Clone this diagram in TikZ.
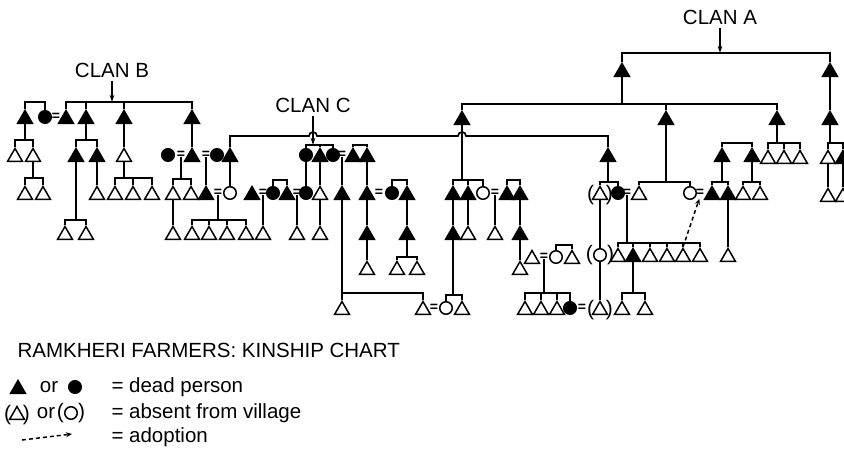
\documentclass[tikz,border=0pt]{standalone}
\usepackage{fontspec}
\setmainfont{Liberation Sans}
\usetikzlibrary{shapes.geometric,arrows.meta}

\begin{document}
\begin{tikzpicture}[x=1pt,y=-1pt,
  every node/.style={font=\fontsize{20.5}{24}\selectfont},
  ln/.style={line width=1.7pt},
  drop/.style={ln,shorten <=-2pt},
  man/.style={draw,line width=1.5pt,fill=white,regular polygon,regular polygon sides=3,
    minimum size=17pt,inner sep=0pt,yshift=-2pt},
  dman/.style={man,fill=black},
  wom/.style={draw,line width=1.5pt,fill=white,circle,minimum size=12.5pt,inner sep=0pt},
  dwom/.style={wom,fill=black},
  wed/.style={inner sep=0pt,font=\fontsize{14}{14}\selectfont\bfseries},
  paren/.style={inner sep=0pt,font=\fontsize{21}{21}\selectfont},
  away/.style={label distance=0.5pt,label={[paren]180:(},label={[paren]0:)}},
  awayw/.style={label distance=-1.5pt,label={[paren]180:(},label={[paren]0:)}},
  pointer/.style={line width=1.2pt,-{Stealth[length=7pt,width=4.5pt]}},
  adopt/.style={line width=1.5pt,dash pattern=on 4pt off 3pt,-{Stealth[length=6pt,width=5pt]}}]
  \useasboundingbox (0,0) rectangle (844,453);

  \node (clanB) at (112,70) {CLAN B};
  \coordinate (jB) at (112,102);
  \node (clanC) at (313,105) {CLAN C};
  \coordinate (jC) at (313,145);
  \node (clanA) at (720,17) {CLAN A};
  \coordinate (jA) at (720,53);

  \node[dman] (b1) at (25,117) {};
  \node[dwom] (b2) at (45,117) {};
  \node[wed] (w1) at (56,117) {=};
  \node[dman] (b3) at (66,117) {};
  \node[dman] (b4) at (86,117) {};
  \node[dman] (b5) at (124,117) {};
  \node[dman] (b6) at (192,117) {};
  \node[man] (b11) at (15,155) {};
  \node[man] (b12) at (33,155) {};
  \node[dman] (b41) at (76,155) {};
  \node[dman] (b42) at (97,155) {};
  \node[man] (b51) at (124,155) {};
  \node[dwom] (b60) at (168,155) {};
  \node[wed] (w2) at (181,155) {=};
  \node[dman] (b61) at (192,155) {};
  \node[wed] (w3) at (206,155) {=};
  \node[dwom] (b62) at (217,155) {};
  \node[dman] (k1) at (230,155) {};
  \node[man] (b121) at (25,193) {};
  \node[man] (b122) at (43,193) {};
  \node[man] (b421) at (97,193) {};
  \node[man] (b511) at (115,193) {};
  \node[man] (b512) at (133,193) {};
  \node[man] (b513) at (152,193) {};
  \node[man] (b611) at (173,193) {};
  \node[man] (b612) at (191,193) {};
  \node[dman] (b613) at (206,193) {};
  \node[wed] (w4) at (218,193) {=};
  \node[wom] (k11) at (230,193) {};
  \node[man] (b411) at (65,233) {};
  \node[man] (b412) at (86,233) {};
  \node[man] (b6111) at (173,233) {};
  \node[man] (b6131) at (192,233) {};
  \node[man] (b6132) at (209,233) {};
  \node[man] (b6133) at (227,233) {};
  \node[man] (b6134) at (246,233) {};

  \node[dwom] (c1) at (306,155) {};
  \node[dman] (c2) at (320,155) {};
  \node[dwom] (c3) at (333,155) {};
  \node[wed] (w5) at (342,155) {=};
  \node[dman] (c4) at (353,155) {};
  \node[dman] (c5) at (367,155) {};
  \node[dman] (c6) at (252,193) {};
  \node[wed] (w6) at (263,193) {=};
  \node[dwom] (c7) at (273,193) {};
  \node[dman] (c8) at (287,193) {};
  \node[wed] (w7) at (297,193) {=};
  \node[dwom] (c11) at (306,193) {};
  \node[man] (c21) at (320,193) {};
  \node[dman] (c31) at (342,193) {};
  \node[dman] (c51) at (367,193) {};
  \node[wed] (w8) at (379,193) {=};
  \node[dwom] (c9) at (392,193) {};
  \node[dman] (c10) at (407,193) {};
  \node[man] (c61) at (263,233) {};
  \node[man] (c81) at (297,233) {};
  \node[man] (c211) at (320,233) {};
  \node[dman] (c511) at (367,233) {};
  \node[dman] (c101) at (407,233) {};
  \node[man] (c5111) at (367,268) {};
  \node[man] (c1011) at (397,268) {};
  \node[man] (c1012) at (417,268) {};
  \node[man] (c311) at (342,308) {};
  \node[man] (c312) at (423,308) {};
  \node[wed] (w9) at (434,308) {=};

  \node[dman] (a1) at (462,118) {};
  \node[dman] (a11) at (453,193) {};
  \node[dman] (a12) at (468,193) {};
  \node[wom] (a13) at (483,193) {};
  \node[wed] (w10) at (495,193) {=};
  \node[dman] (d1) at (507,193) {};
  \node[dman] (d2) at (520,193) {};
  \node[dman] (a111) at (453,233) {};
  \node[man] (a121) at (468,233) {};
  \node[man] (a131) at (495,233) {};
  \node[dman] (d21) at (520,233) {};
  \node[man] (d211) at (520,268) {};
  \node[man] (e1) at (532,257) {};
  \node[wed] (w11) at (544,257) {=};
  \node[wom] (e2) at (556,257) {};
  \node[man] (e3) at (572,257) {};
  \node[wom] (a1111) at (446,308) {};
  \node[man] (a1112) at (462,308) {};
  \node[man] (e11) at (525,308) {};
  \node[man] (e12) at (541,308) {};
  \node[man] (e13) at (557,308) {};
  \node[dwom] (e14) at (570,308) {};
  \node[wed] (w12) at (582,308) {=};
  \node[man,away] (f111) at (600,308) {};

  \node[dman] (a0) at (622,70) {};
  \node[dman] (a4) at (830,70) {};
  \node[dman] (a2) at (666,118) {};
  \node[dman] (a3) at (777,118) {};
  \node[dman] (a5) at (830,118) {};
  \node[dman] (k2) at (608,155) {};
  \node[dman] (h1) at (722,155) {};
  \node[dman] (h2) at (752,155) {};
  \node[man] (i1) at (768,157) {};
  \node[man] (i2) at (784,157) {};
  \node[man] (i3) at (800,157) {};
  \node[man] (j1) at (828,157) {};
  \node[dman] (j2) at (843,157) {};
  \node[man,away] (f1) at (600,193) {};
  \node[dwom] (f2) at (618,193) {};
  \node[wed] (w13) at (627,193) {=};
  \node[man] (g1) at (639,193) {};
  \node[wom] (g2) at (690,193) {};
  \node[wed] (w14) at (700,193) {=};
  \node[dman] (h11) at (712,193) {};
  \node[dman] (h12) at (728,193) {};
  \node[man] (h21) at (743,193) {};
  \node[man] (h22) at (760,193) {};
  \node[man] (j11) at (828,195) {};
  \node[man] (j21) at (843,195) {};
  \node[wom,awayw] (f11) at (600,255) {};
  \node[man] (n1) at (618,255) {};
  \node[dman] (n2) at (633,255) {};
  \node[man] (n3) at (650,255) {};
  \node[man] (n4) at (667,255) {};
  \node[man] (n5) at (683,255) {};
  \node[man] (n6) at (700,255) {};
  \node[man] (h121) at (728,255) {};
  \node[man] (n21) at (622,308) {};
  \node[man] (n22) at (645,308) {};

  \draw[pointer] (clanB) -- (jB);
  \draw[pointer] (clanA) -- (jA);
  \draw[pointer] (clanC) -- (jC);
  \draw[ln] (b1.north) |- (b2.north |- 0,102) -- (b2.north);
  \draw[ln] (b3.north) |- (b6.north |- 0,102) -- (b6.north);
  \foreach \n in {b4,b5} \draw[ln] (\n.north) -- (\n.north |- 0,102);
  \draw[ln] (b1.south) -- (b1.south |- 0,140);
  \draw[ln] (b11.north) |- (b12.north |- 0,140) -- (b12.north);
  \draw[ln] (b12.south) -- (b12.south |- 0,178);
  \draw[ln] (b121.north) |- (b122.north |- 0,178) -- (b122.north);
  \draw[ln] (b4.south) -- (b4.south |- 0,140);
  \draw[ln] (b41.north) |- (b42.north |- 0,140) -- (b42.north);
  \draw[ln] (b41.south) -- (b41.south |- 0,220);
  \draw[ln] (b411.north) |- (b412.north |- 0,220) -- (b412.north);
  \draw[ln] (b42.south) -- (b421.north);
  \draw[ln] (b5.south) -- (b51.north);
  \draw[ln] (b51.south) -- (b51.south |- 0,178);
  \draw[ln] (b511.north) |- (b513.north |- 0,178) -- (b513.north);
  \draw[ln] (b512.north) -- (b512.north |- 0,178);
  \draw[ln] (b6.south) -- (b61.north);
  \draw[drop] (w2.south) -- (w2.south |- 0,179);
  \draw[ln] (b611.north) |- (b612.north |- 0,179) -- (b612.north);
  \draw[ln] (b611.south) -- (b6111.north);
  \draw[drop] (w3.south) -- (b613.north);
  \draw[drop] (w4.south) -- (w4.south |- 0,220);
  \draw[ln] (b6131.north) |- (b6134.north |- 0,220) -- (b6134.north);
  \foreach \n in {b6132,b6133} \draw[ln] (\n.north) -- (\n.north |- 0,220);
  \draw[ln] (k1.south) -- (k11.north);
  \draw[ln] (k1.north) |- (309,136) arc[start angle=180,end angle=0,radius=4pt]
    -- (458,136) arc[start angle=180,end angle=0,radius=4pt] -| (k2.north);

  \draw[ln] (c1.north) |- (c3.north |- 0,145) -- (c3.north);
  \draw[ln] (c2.north) -- (c2.north |- 0,145);
  \draw[ln] (c4.north) |- (c5.north |- 0,145) -- (c5.north);
  \draw[ln] (c1.south) -- (c11.north);
  \draw[ln] (c2.south) -- (c21.north);
  \draw[drop] (w5.south) -- (c31.north);
  \draw[ln] (c5.south) -- (c51.north);
  \draw[ln] (c51.south) -- (c511.north);
  \draw[ln] (c511.south) -- (c5111.north);
  \draw[ln] (c7.north) |- (c8.north |- 0,180) -- (c8.north);
  \draw[ln] (c9.north) |- (c10.north |- 0,180) -- (c10.north);
  \draw[drop] (w6.south) -- (c61.north);
  \draw[drop] (w7.south) -- (c81.north);
  \draw[ln] (c21.south) -- (c211.north);
  \draw[ln] (c10.south) -- (c101.north);
  \draw[ln] (c101.south) -- (c101.south |- 0,257);
  \draw[ln] (c1011.north) |- (c1012.north |- 0,257) -- (c1012.north);
  \draw[ln] (c31.south) -- (c311.north);
  \draw[ln] (c311.north |- 0,293) -| (c312.north);

  \draw[ln] (a1.south) -- (a1.south |- 0,180);
  \draw[ln] (a11.north) |- (a13.north |- 0,180) -- (a13.north);
  \draw[ln] (a12.north) -- (a12.north |- 0,180);
  \draw[ln] (d1.north) |- (d2.north |- 0,180) -- (d2.north);
  \draw[ln] (a11.south) -- (a111.north);
  \draw[ln] (a12.south) -- (a121.north);
  \draw[drop] (w10.south) -- (a131.north);
  \draw[ln] (d2.south) -- (d21.north);
  \draw[ln] (d21.south) -- (d211.north);
  \draw[ln] (a111.south) -- (a111.south |- 0,295);
  \draw[ln] (a1111.north) |- (a1112.north |- 0,295) -- (a1112.north);
  \draw[ln] (e2.north) |- (e3.north |- 0,245) -- (e3.north);
  \draw[drop] (w11.south) -- (w11.south |- 0,293);
  \draw[ln] (e11.north) |- (e14.north |- 0,293) -- (e14.north);
  \foreach \n in {e12,e13} \draw[ln] (\n.north) -- (\n.north |- 0,293);

  \draw[ln] (a0.north) |- (a4.north |- 0,53) -- (a4.north);
  \draw[ln] (a0.south) -- (a0.south |- 0,104);
  \draw[ln] (a1.north) |- (a3.north |- 0,104) -- (a3.north);
  \draw[ln] (a2.north) -- (a2.north |- 0,104);
  \draw[ln] (a4.south) -- (a5.north);
  \draw[ln] (k2.south) -- (k2.south |- 0,182);
  \draw[ln] (f1.north) |- (f2.north |- 0,182) -- (f2.north);
  \draw[ln] (f1.south) -- (f11.north);
  \draw[ln] (f11.south) -- (f111.north);
  \draw[ln] (a2.south) -- (a2.south |- 0,182);
  \draw[ln] (g1.north) |- (g2.north |- 0,182) -- (g2.north);
  \draw[drop] (w13.south) -- (w13.south |- 0,243);
  \draw[ln] (n1.north) |- (n6.north |- 0,243) -- (n6.north);
  \foreach \n in {n2,n3,n4,n5} \draw[ln] (\n.north) -- (\n.north |- 0,243);
  \draw[ln] (n2.south) -- (n2.south |- 0,293);
  \draw[ln] (n21.north) |- (n22.north |- 0,293) -- (n22.north);
  \draw[ln] (a3.south) -- (a3.south |- 0,143);
  \draw[ln] (i1.north) |- (i3.north |- 0,143) -- (i3.north);
  \draw[ln] (i2.north) -- (i2.north |- 0,143);
  \draw[ln] (h1.north) |- (h2.north |- 0,143) -- (h2.north);
  \draw[ln] (h1.south) -- (h1.south |- 0,182);
  \draw[ln] (h11.north) |- (h12.north |- 0,182) -- (h12.north);
  \draw[ln] (h2.south) -- (h2.south |- 0,182);
  \draw[ln] (h21.north) |- (h22.north |- 0,182) -- (h22.north);
  \draw[ln] (h12.south) -- (h121.north);
  \draw[ln] (a5.south) -- (a5.south |- 0,143);
  \draw[ln] (j1.north) |- (j2.north |- 0,143) -- (j2.north);
  \draw[ln] (j1.south) -- (j11.north);
  \draw[ln] (j2.south) -- (j21.north);
  \draw[adopt,shorten >=2pt] (n5.north) -- (w14.south);

  \node[anchor=west] (title) at (14,350) {RAMKHERI FARMERS: KINSHIP CHART};
  \node[dman] (key1) at (18,387) {};
  \node (or1) at (49,387) {or};
  \node[dwom] (key2) at (75,387) {};
  \node[anchor=west] (dead) at (108,387) {= dead person};
  \node[man,away] (key3) at (17,413) {};
  \node (or2) at (46,413) {or};
  \node[wom,awayw] (key4) at (71,413) {};
  \node[anchor=west] (absent) at (108,413) {= absent from village};
  \coordinate (k5a) at (22,440);
  \coordinate (k5b) at (72,434);
  \draw[adopt] (k5a) -- (k5b);
  \node[anchor=west] (adoption) at (108,437) {= adoption};
\end{tikzpicture}
\end{document}
